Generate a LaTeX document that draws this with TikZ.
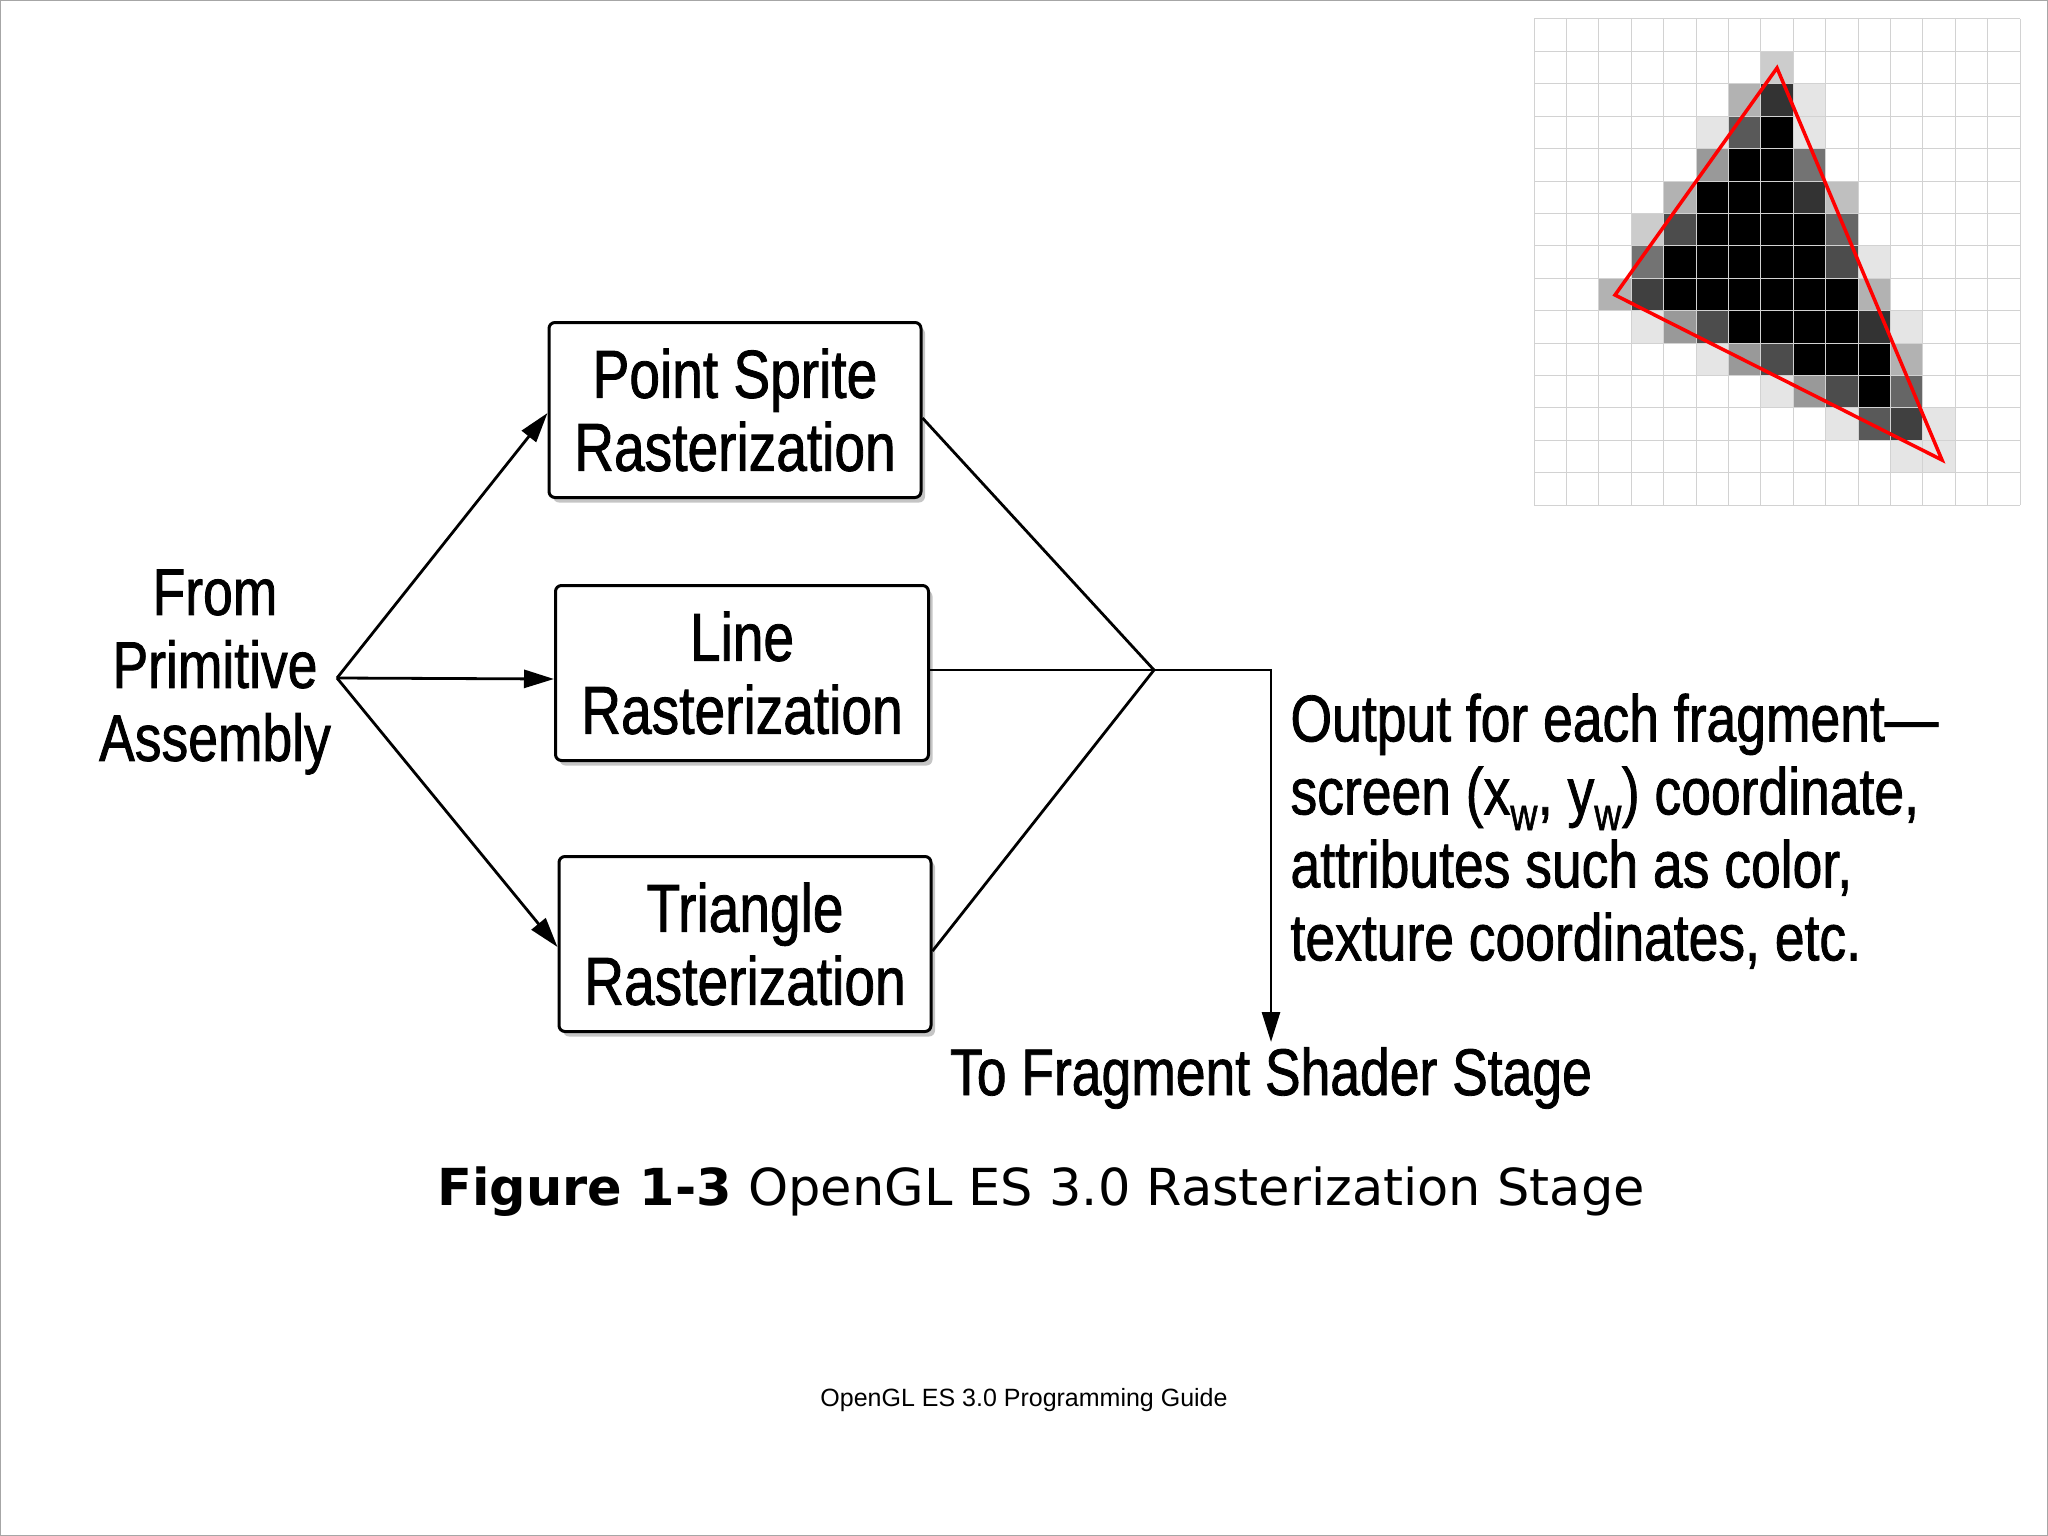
\documentclass[tikz,border=0pt]{standalone}
\usepackage{fontspec}
\setmainfont{Liberation Sans}
\newfontfamily\cond[FakeStretch=0.81,FakeBold=1.2]{Liberation Sans}
\newfontfamily\capf{DejaVu Sans}
\usetikzlibrary{shadows,arrows.meta}
\begin{document}
\begin{tikzpicture}[x=1pt,y=-1pt,
  box/.style={draw,line width=3pt,rounded corners=6pt,fill=white,
    drop shadow={shadow xshift=4pt,shadow yshift=-5pt,fill=black!45},
    minimum width=#1,minimum height=175pt,align=center,inner sep=0pt,
    font=\cond\fontsize{68}{73}\selectfont},
  con/.style={line width=2.8pt},
  arr/.style={con,-{Triangle[length=30pt,width=18pt]}},
  lbl/.style={align=center,font=\cond\fontsize{66}{73}\selectfont}]
\useasboundingbox (0,0) rectangle (2048,1536);
\draw[gray!70,line width=1.5pt] (0,0) rectangle (2048,1536);
% pixel grid
\def\cs{32.4}
\foreach \r/\c/\g in {1/7/80,2/6/70,2/7/20,2/8/90,3/5/90,3/6/35,3/7/0,3/8/90,
 4/5/60,4/6/0,4/7/0,4/8/45,5/4/70,5/5/0,5/6/0,5/7/0,5/8/20,5/9/75,
 6/3/80,6/4/30,6/5/0,6/6/0,6/7/0,6/8/0,6/9/40,
 7/3/45,7/4/0,7/5/0,7/6/0,7/7/0,7/8/0,7/9/30,7/10/90,
 8/2/70,8/3/25,8/4/0,8/5/0,8/6/0,8/7/0,8/8/0,8/9/0,8/10/70,
 9/3/90,9/4/60,9/5/30,9/6/0,9/7/0,9/8/0,9/9/0,9/10/20,9/11/90,
 10/5/90,10/6/60,10/7/30,10/8/0,10/9/0,10/10/0,10/11/70,
 11/7/90,11/8/60,11/9/30,11/10/0,11/11/40,
 12/9/90,12/10/35,12/11/25,12/12/90,13/11/90,13/12/90}
 {\fill[white!\g!black] (1534+\c*\cs,19+\r*\cs) rectangle ++(\cs,\cs);}
\foreach \i in {0,...,15}{
 \draw[gray!35,line width=1pt] (1534+\i*\cs,19) -- (1534+\i*\cs,505);
 \draw[gray!35,line width=1pt] (1534,19+\i*\cs) -- (2020,19+\i*\cs);}
\draw[red,line width=3.5pt,line join=miter] (1777,68) -- (1615,295) -- (1942,460) -- cycle;
% diagram
\node[box=372pt] (ps) at (735,410) {Point Sprite\\Rasterization};
\node[box=373pt] (ln) at (742,673) {Line\\Rasterization};
\node[box=372pt] (tr) at (745,944) {Triangle\\Rasterization};
\node[lbl] (src) at (215,672) {From\\Primitive\\Assembly};
\coordinate (fork) at (337,678);
\coordinate (merge) at (1154,670);
\coordinate (corner) at (1271,670);
\coordinate (end) at (1271,1042);
\draw[arr] (fork) -- (ps.west|-0,413);
\draw[arr] (fork) -- (ln.west|-0,679);
\draw[arr] (fork) -- (tr.west|-0,947);
\draw[con] (ps.east|-0,418) -- (merge);
\draw[con] (ln.east|-0,670) -- (merge);
\draw[con] (tr.east|-0,951) -- (merge);
\draw[arr] (merge) -- (corner) -- (end);
\node[lbl,align=left,anchor=north west] (out) at (1287,690)
 {Output for each fragment—\\screen (x\textsubscript{w}, y\textsubscript{w}) coordinate,\\attributes such as color,\\texture coordinates, etc.};
\node[lbl] (to) at (1271,1078) {To Fragment Shader Stage};
\node[font=\capf\fontsize{51}{60}\selectfont] (cap) at (1041,1192) {\textbf{Figure 1-3} OpenGL ES 3.0 Rasterization Stage};
\node[font=\fontsize{25}{30}\selectfont] (foot) at (1024,1400) {OpenGL ES 3.0 Programming Guide};
\end{tikzpicture}
\end{document}
